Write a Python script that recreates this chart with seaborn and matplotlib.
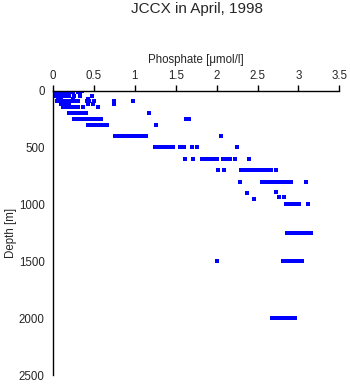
import matplotlib
matplotlib.use("Agg")
import matplotlib.pyplot as plt
import seaborn as sns
import pandas as pd

title = "JCCX in April, 1998"
x_label = "Phosphate [\u03bcmol/l]"
y_label = "Depth [m]"
x_ticks = [0, 0.5, 1, 1.5, 2, 2.5, 3, 3.5]
x_tick_labels = ["0", "0.5", "1", "1.5", "2", "2.5", "3", "3.5"]
y_ticks = [0, 500, 1000, 1500, 2000, 2500]

# depth levels (m) and phosphate values (umol/l) observed at each level
depth_levels = [5, 10, 20, 45, 75, 95, 120, 145, 200, 250, 300, 400,
                500, 600, 700, 800, 1000, 1250, 1500, 2000]
phosphate_by_level = [
    [0.01, 0.03, 0.05, 0.07, 0.09, 0.11, 0.13, 0.17, 0.19, 0.22, 0.25, 0.31, 0.35],
    [0.02, 0.04, 0.06, 0.08, 0.10, 0.12, 0.18, 0.21, 0.24, 0.31, 0.33],
    [0.01, 0.03, 0.06, 0.09, 0.12, 0.15],
    [0.01, 0.03, 0.05, 0.08, 0.11, 0.14, 0.17, 0.20, 0.26, 0.33, 0.48],
    [0.06, 0.08, 0.10, 0.25, 0.43],
    [0.05, 0.08, 0.11, 0.14, 0.17, 0.22, 0.27, 0.31, 0.42, 0.44, 0.50, 0.74, 0.98],
    [0.10, 0.13, 0.16, 0.19, 0.43, 0.49, 0.74],
    [0.12, 0.15, 0.18, 0.21, 0.24, 0.26, 0.31, 0.37, 0.55],
    [0.20, 0.23, 0.26, 0.29, 0.32, 0.35, 0.40, 1.17],
    [0.26, 0.29, 0.32, 0.35, 0.38, 0.41, 0.44, 0.47, 0.50, 0.53, 0.56, 0.59, 1.62, 1.66],
    [0.43, 0.46, 0.49, 0.52, 0.55, 0.58, 0.62, 0.66, 1.26],
    [0.76, 0.79, 0.82, 0.85, 0.88, 0.92, 0.96, 0.99, 1.02, 1.05, 1.08, 1.11, 1.14, 2.05],
    [1.25, 1.28, 1.31, 1.34, 1.37, 1.40, 1.44, 1.47, 1.55, 1.58, 1.60, 1.70, 1.76, 2.25],
    [1.61, 1.71, 1.82, 1.86, 1.90, 1.93, 1.96, 2.00, 2.08, 2.12, 2.16, 2.22, 2.39],
    [2.02, 2.09, 2.30, 2.34, 2.38, 2.42, 2.46, 2.49, 2.53, 2.57, 2.60, 2.62, 2.66, 2.73],
    [2.28, 2.55, 2.58, 2.62, 2.66, 2.70, 2.74, 2.77, 2.80, 2.83, 2.85, 2.88, 2.91, 3.09],
    [2.85, 2.88, 2.91, 2.94, 2.97, 3.01, 3.12],
    [2.86, 2.90, 2.94, 2.98, 3.02, 3.06, 3.10, 3.13, 3.15],
    [2.01, 2.81, 2.84, 2.87, 2.90, 2.93, 2.96, 2.99, 3.02, 3.04],
    [2.68, 2.71, 2.74, 2.78, 2.81, 2.85, 2.88, 2.92, 2.96],
]
# scattered points between levels
extra_phosphate = [2.37, 2.73, 2.46, 2.76, 2.83, 1.26, 1.61]
extra_depth = [903, 895, 955, 937, 937, 300, 600]

phos, dep = [], []
for d, vals in zip(depth_levels, phosphate_by_level):
    phos.extend(vals)
    dep.extend([d] * len(vals))
phos.extend(extra_phosphate)
dep.extend(extra_depth)
df = pd.DataFrame({"phosphate": phos, "depth": dep})

sns.set_style("white")
plt.rcParams["font.family"] = ["Liberation Sans", "DejaVu Sans"]

fig = plt.figure(figsize=(3.5, 3.84), dpi=100)
ax = fig.add_axes([53 / 350, 1 - 375 / 384, (339.3 - 53) / 350, (375 - 90.5) / 384])

sns.scatterplot(data=df, x="phosphate", y="depth", ax=ax, marker="s", s=6.5,
                color="#0000ff", edgecolor="#0000ff", linewidth=0, legend=False)

ax.set_xlim(0, 3.5)
ax.set_ylim(2500, 0)
ax.set_xticks(x_ticks)
ax.set_xticklabels(x_tick_labels)
ax.set_yticks(y_ticks)
ax.xaxis.tick_top()
ax.xaxis.set_label_position("top")
ax.set_xlabel(x_label, fontsize=8.3, labelpad=5)
ax.set_ylabel(y_label, fontsize=8.3, labelpad=1)
ax.tick_params(axis="both", direction="out", length=4, width=1, labelsize=8.3,
               color="black", pad=2)
for s in ["right", "bottom"]:
    ax.spines[s].set_visible(False)
for s in ["left", "top"]:
    ax.spines[s].set_color("black")
    ax.spines[s].set_linewidth(1)
ax.grid(False)

fig.text(197 / 350, 1 - 9 / 384, title, ha="center", va="center", fontsize=11)

fig.savefig("out.png", dpi=100)
